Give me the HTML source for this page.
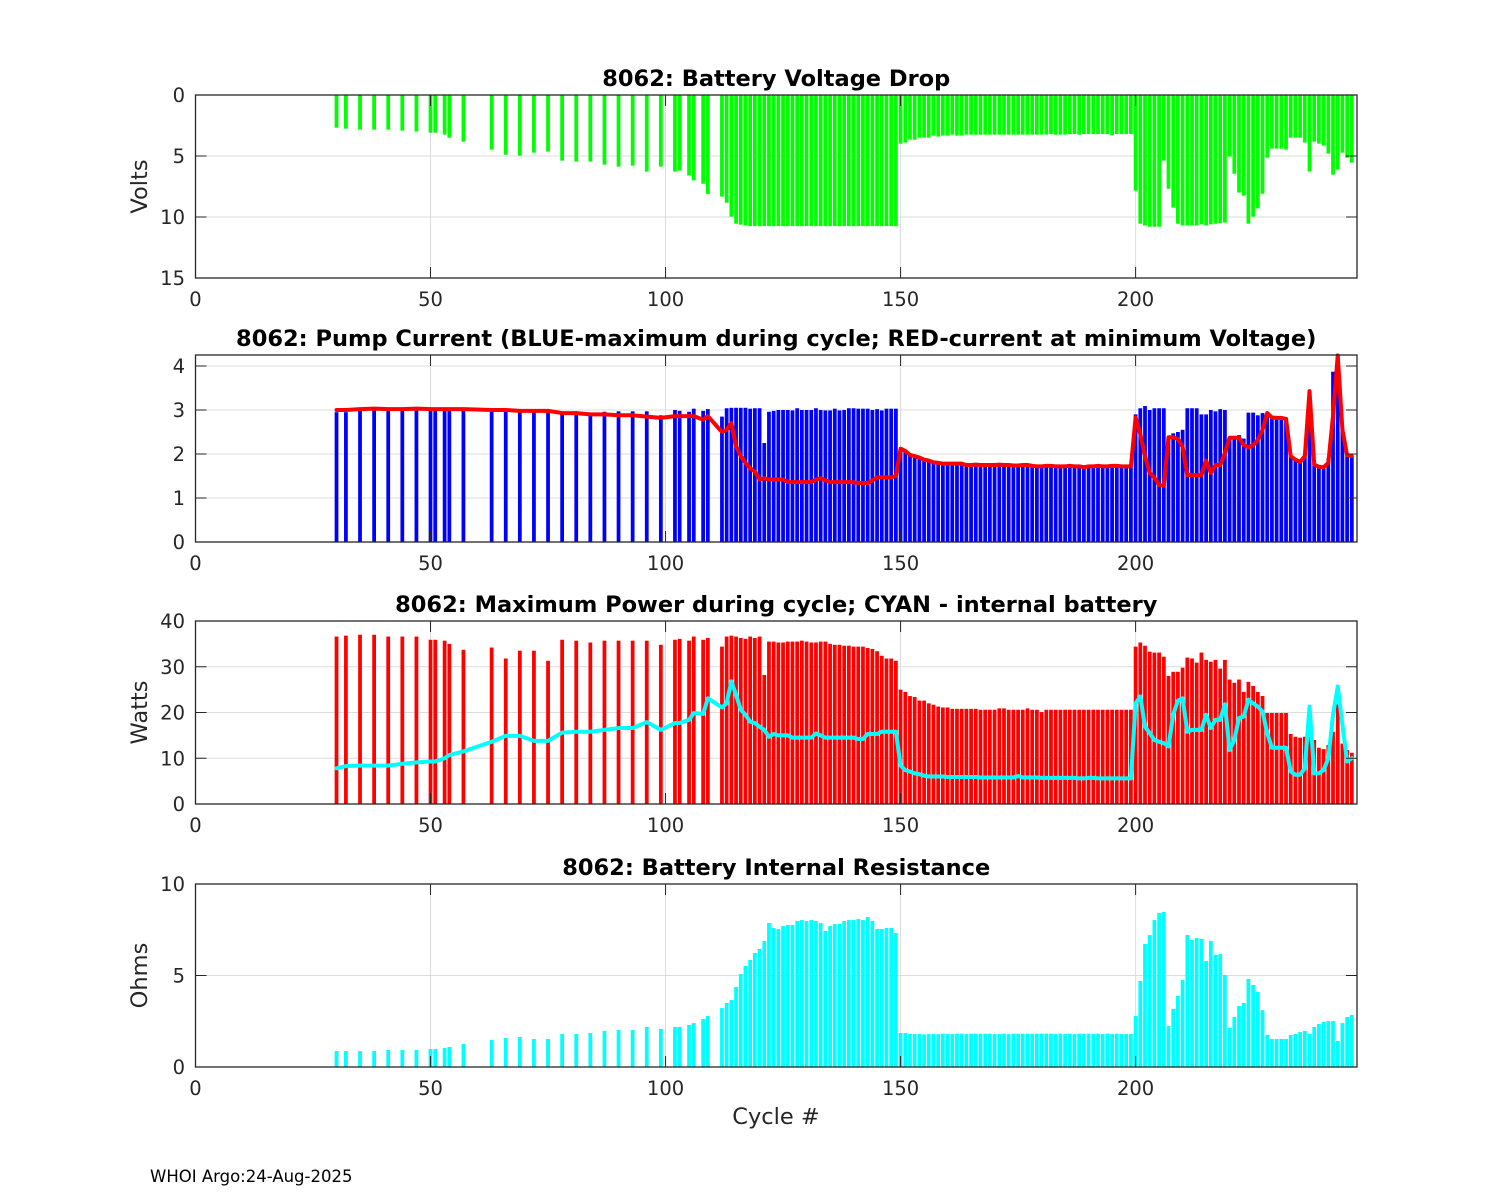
<!DOCTYPE html>
<html><head><meta charset="utf-8"><title>8062 battery diagnostics</title>
<style>
html,body{margin:0;padding:0;background:#fff;}
svg{display:block;font-family:"DejaVu Sans","Liberation Sans",sans-serif;}
</style></head>
<body>
<svg id="fig" width="1500" height="1200" viewBox="0 0 1500 1200" xmlns="http://www.w3.org/2000/svg">
<rect width="1500" height="1200" fill="#fff"/>
</svg>
<script>
// ---- data ----
const cycles = [30,32,35,38,41,44,47,50,51,53,54,57,63,66,69,72,75,78,81,84,87,90,93,96,99,102,103,105,106,108,109,
112,113,114,115,116,117,118,119,120,121,122,123,124,125,126,127,128,129,130,131,132,133,134,135,136,137,138,139,140,141,142,143,144,145,146,147,148,149,
150,151,152,153,154,155,156,157,158,159,160,161,162,163,164,165,166,167,168,169,170,171,172,173,174,175,176,177,178,179,180,181,182,183,184,185,186,187,188,189,190,191,192,193,194,195,196,197,198,199,
200,201,202,203,204,205,206,207,208,209,210,211,212,213,214,215,216,217,218,219,220,221,222,223,224,225,226,227,228,229,230,231,232,233,234,235,236,237,238,239,240,241,242,243,244,245,246];

const voltageDrop = [2.68,2.76,2.84,2.84,2.84,2.92,3.0,3.09,3.09,3.25,3.5,3.83,4.48,4.9,4.97,4.73,4.64,5.38,5.46,5.46,5.71,5.87,5.79,6.28,5.87,6.28,6.2,6.6,7.0,7.27,8.1,
8.33,8.83,9.97,10.55,10.63,10.7,10.75,10.75,10.75,10.75,10.75,10.75,10.75,10.75,10.75,10.75,10.75,10.75,10.75,10.75,10.75,10.75,10.75,10.75,10.75,10.75,10.75,10.75,10.75,10.75,10.75,10.75,10.75,10.75,10.75,10.75,10.75,10.75,
3.99,3.9,3.66,3.66,3.5,3.5,3.5,3.33,3.41,3.33,3.33,3.25,3.33,3.33,3.25,3.25,3.25,3.25,3.25,3.25,3.25,3.25,3.25,3.25,3.25,3.25,3.25,3.25,3.25,3.25,3.25,3.25,3.2,3.25,3.25,3.25,3.2,3.2,3.25,3.2,3.2,3.2,3.2,3.2,3.2,3.3,3.2,3.2,3.2,3.2,
7.84,10.55,10.7,10.8,10.8,10.8,5.38,7.68,9.23,10.55,10.7,10.7,10.7,10.7,10.6,10.7,10.6,10.55,10.5,10.46,5.05,6.45,8.0,8.25,10.55,9.97,9.3,8.09,5.14,4.4,4.4,4.4,4.48,3.5,3.5,3.5,3.9,6.28,3.83,3.99,4.15,4.8,6.53,6.12,4.73,5.14,5.55];

const currentMax = [2.95,2.95,3.0,3.0,3.0,3.0,3.0,3.0,3.0,3.0,3.0,3.0,3.0,3.0,3.0,3.0,3.0,2.95,2.97,2.9,2.96,2.97,2.97,2.97,2.88,3.0,2.98,2.96,3.03,2.98,3.02,
2.85,3.04,3.05,3.05,3.05,3.05,3.03,3.04,3.04,2.25,2.96,2.98,3.0,3.0,3.0,2.99,3.04,3.0,3.0,3.0,3.04,3.0,2.99,2.99,3.03,2.99,3.0,3.04,3.04,3.03,3.03,3.03,3.0,3.02,2.99,3.03,3.03,3.03,
2.12,2.07,1.98,1.95,1.92,1.87,1.85,1.81,1.8,1.78,1.78,1.78,1.78,1.78,1.75,1.75,1.76,1.75,1.75,1.75,1.75,1.76,1.75,1.75,1.74,1.74,1.75,1.75,1.73,1.72,1.72,1.73,1.73,1.72,1.72,1.72,1.73,1.72,1.72,1.7,1.72,1.72,1.73,1.72,1.72,1.73,1.73,1.72,1.72,1.72,
2.9,3.04,3.09,3.0,3.04,3.04,3.04,2.38,2.47,2.5,2.55,3.04,3.04,3.04,2.9,2.9,3.0,2.97,3.02,3.0,2.35,2.35,2.43,2.35,2.94,2.94,2.88,2.93,2.92,2.83,2.83,2.83,2.83,1.96,1.9,1.83,1.95,3.35,1.76,1.72,1.68,1.9,3.87,4.2,2.6,1.95,1.95];

const currentAtMinV = [3.0,3.0,3.02,3.03,3.02,3.02,3.03,3.02,3.02,3.02,3.02,3.02,3.0,3.0,2.98,2.98,2.98,2.93,2.93,2.9,2.9,2.88,2.88,2.85,2.82,2.86,2.86,2.86,2.86,2.78,2.86,
2.5,2.55,2.7,2.18,1.95,1.8,1.68,1.6,1.42,1.45,1.42,1.42,1.42,1.42,1.36,1.36,1.36,1.36,1.36,1.36,1.42,1.45,1.4,1.36,1.36,1.36,1.36,1.36,1.36,1.34,1.34,1.34,1.4,1.47,1.47,1.47,1.47,1.5,
2.12,2.07,1.98,1.95,1.92,1.87,1.85,1.81,1.8,1.78,1.78,1.78,1.78,1.78,1.75,1.75,1.76,1.75,1.75,1.75,1.75,1.76,1.75,1.75,1.74,1.74,1.75,1.75,1.73,1.72,1.72,1.73,1.73,1.72,1.72,1.72,1.73,1.72,1.72,1.7,1.72,1.72,1.73,1.72,1.72,1.73,1.73,1.72,1.72,1.72,
2.83,2.45,1.95,1.57,1.46,1.3,1.28,2.38,2.38,2.34,2.16,1.52,1.52,1.52,1.52,1.85,1.57,1.75,1.75,2.02,2.37,2.37,2.37,2.2,2.15,2.2,2.32,2.55,2.93,2.83,2.82,2.82,2.8,1.95,1.87,1.82,1.95,3.43,1.76,1.71,1.7,1.8,2.87,4.24,2.55,1.97,1.95];

const powerMax = [36.6,36.8,37,37,36.6,36.6,36.6,35.9,35.9,35.7,35.0,33.7,34.2,31.8,33.5,33.5,31.3,35.9,35.7,35.3,35.7,35.7,35.7,35.7,34.8,35.9,36.1,35.7,36.6,35.9,36.3,
34.4,36.6,36.8,36.6,36.3,36.1,36.6,36.3,36.6,28.2,35.5,35.5,35.3,35.3,35.5,35.5,35.5,35.7,35.5,35.3,35.3,35.5,35.5,35.0,34.8,34.8,34.6,34.6,34.4,34.4,34.4,34.1,33.9,33.4,32.4,31.8,31.8,31.3,
25,24.5,23.6,23.4,22.6,22.6,22,21.7,21.3,21.1,21.1,20.8,20.8,20.8,20.8,20.8,20.8,20.6,20.6,20.6,20.6,20.9,20.9,20.6,20.6,20.6,20.6,20.9,20.6,20.6,20.1,20.6,20.6,20.6,20.6,20.6,20.6,20.6,20.6,20.6,20.6,20.6,20.6,20.6,20.6,20.6,20.6,20.6,20.6,20.6,
34.4,35.3,34.6,33.3,33.1,33.1,32.2,28,28.9,28.9,29.8,32,31.8,30.9,33.1,31.5,31.1,31.5,29.6,31.5,27.2,26.5,27.2,24.5,26.7,25.8,24.5,23.6,19.9,19.9,19.9,19.9,19.9,15.3,14.7,14.5,14.7,14.7,14.0,12.3,12.0,12.9,15.8,21.8,13.2,11.8,11.2];

const powerInternal = [7.8,8.3,8.4,8.4,8.4,8.8,9.1,9.3,9.3,10.0,10.7,11.5,13.6,14.9,14.9,13.8,13.8,15.6,15.8,15.8,16.2,16.6,16.6,17.9,16.2,17.7,17.7,18.4,19.9,19.7,23.1,
21.1,22,26.8,23.9,20.6,19.5,18,17.7,16.9,16.2,14.7,15.3,15,15,15,14.5,14.5,14.5,14.5,14.5,15.4,15,14.5,14.5,14.5,14.5,14.5,14.5,14.5,14.2,14.2,15.3,15.3,15.3,15.8,15.8,15.8,15.8,
8.4,7.4,7.1,6.7,6.5,6.2,6.0,6.0,6.0,6.0,5.9,5.9,5.9,5.9,5.9,5.9,5.9,5.8,5.8,5.8,5.8,5.8,5.8,5.8,5.8,6.1,5.8,5.8,5.8,5.8,5.7,5.7,5.7,5.7,5.7,5.7,5.7,5.7,5.6,5.6,5.7,5.7,5.6,5.6,5.6,5.6,5.6,5.6,5.6,5.6,
22,23.5,16.9,15.5,14,13.6,13.3,12.6,19.5,22.6,23.1,15.8,16.2,16.2,16.2,19.5,16.6,18.4,18.4,21.8,11.8,14,18.8,19.1,22.8,22,21.3,20.2,15.5,12.3,12.3,12.3,12.3,7.1,6.4,6.4,7.8,21.3,6.7,6.7,7.4,10,19.5,25.7,17.3,9.3,10];

const resistance = [0.87,0.87,0.87,0.87,0.93,0.93,0.93,0.98,0.98,1.04,1.09,1.26,1.48,1.58,1.64,1.53,1.53,1.8,1.8,1.86,1.97,2.02,2.02,2.19,2.08,2.19,2.19,2.3,2.4,2.62,2.79,
3.22,3.5,3.66,4.37,5.08,5.52,5.85,6.23,6.45,6.89,7.87,7.6,7.54,7.7,7.76,7.76,7.98,8.03,7.98,8.03,7.98,7.87,7.43,7.7,7.81,7.81,7.98,8.03,8.03,8.09,8.03,8.2,7.98,7.54,7.54,7.6,7.6,7.32,
1.86,1.86,1.8,1.8,1.8,1.78,1.8,1.8,1.8,1.82,1.8,1.8,1.82,1.82,1.8,1.82,1.82,1.82,1.82,1.82,1.8,1.8,1.82,1.8,1.82,1.82,1.82,1.82,1.82,1.82,1.82,1.82,1.82,1.8,1.82,1.8,1.82,1.8,1.82,1.8,1.82,1.8,1.82,1.8,1.82,1.8,1.82,1.8,1.8,1.8,
2.79,4.7,6.72,7.21,8.03,8.42,8.47,2.24,3.17,3.88,4.75,7.21,6.94,7.05,7.0,5.79,6.89,6.12,6.17,5.03,2.13,2.73,3.33,3.5,4.81,4.48,4.1,3.11,1.75,1.53,1.53,1.53,1.53,1.75,1.8,1.91,1.97,1.8,2.19,2.35,2.46,2.51,2.51,1.42,2.4,2.73,2.84];

const xTicks = [0,50,100,150,200];
const yTicks1 = [0,5,10,15];
const yTicks2 = [0,1,2,3,4];
const yTicks3 = [0,10,20,30,40];
const yTicks4 = [0,5,10];

// ---- layout ----
const NS = "http://www.w3.org/2000/svg";
const svg = document.getElementById('fig');
const X0 = 195.5, X1 = 1357, XMAX = 247.1;
const xs = v => X0 + v / XMAX * (X1 - X0);
const BW = 0.8 * (X1 - X0) / XMAX;

function mk(tag, attrs, parent) {
  const e = document.createElementNS(NS, tag);
  for (const k in attrs) e.setAttribute(k, attrs[k]);
  (parent || svg).appendChild(e);
  return e;
}
function txt(s, attrs, parent) { const t = mk('text', attrs, parent); t.textContent = s; return t; }

const panels = [
  {key:'voltage', top:95, bot:278, min:0, max:15, rev:true, ticks:yTicks1, title:'8062: Battery Voltage Drop', ylabel:'Volts'},
  {key:'current', top:355, bot:542, min:0, max:4.25, rev:false, ticks:yTicks2, title:'8062: Pump Current (BLUE-maximum during cycle; RED-current at minimum Voltage)', ylabel:''},
  {key:'power', top:621, bot:804, min:0, max:40, rev:false, ticks:yTicks3, title:'8062: Maximum Power during cycle; CYAN - internal battery', ylabel:'Watts'},
  {key:'resistance', top:884, bot:1067, min:0, max:10, rev:false, ticks:yTicks4, title:'8062: Battery Internal Resistance', ylabel:'Ohms'}
];

function yScale(p) {
  return v => p.rev ? p.top + (v - p.min) / (p.max - p.min) * (p.bot - p.top)
                    : p.bot - (v - p.min) / (p.max - p.min) * (p.bot - p.top);
}

function drawAxes(p) {
  const g = mk('g', {});
  
  
  const ys = yScale(p);
  xTicks.forEach(t => {
    if (t === 0) return;
    const l = mk('line', {x1:xs(t), x2:xs(t), y1:p.top, y2:p.bot, stroke:'#dcdcdc', 'stroke-width':1}, g);
    
    
  });
  p.ticks.forEach(t => {
    const l = mk('line', {x1:X0, x2:X1, y1:ys(t), y2:ys(t), stroke:'#dcdcdc', 'stroke-width':1}, g);
    
    
  });
  return g;
}

function drawFrame(p) {
  const g = mk('g', {});
  
  
  const ys = yScale(p);
  mk('rect', {x:X0, y:p.top, width:X1 - X0, height:p.bot - p.top, fill:'none', stroke:'#262626', 'stroke-width':1.3}, g);
  xTicks.forEach(t => {
    mk('line', {x1:xs(t), x2:xs(t), y1:p.bot, y2:p.bot - 11, stroke:'#262626', 'stroke-width':1}, g);
    mk('line', {x1:xs(t), x2:xs(t), y1:p.top, y2:p.top + 11, stroke:'#262626', 'stroke-width':1}, g);
    const lb = txt(String(t), {x:xs(t), y:p.bot + 28, 'text-anchor':'middle', 'font-size':19.5, fill:'#262626'}, g);
    
    
  });
  p.ticks.forEach(t => {
    mk('line', {x1:X0, x2:X0 + 11, y1:ys(t), y2:ys(t), stroke:'#262626', 'stroke-width':1}, g);
    mk('line', {x1:X1, x2:X1 - 11, y1:ys(t), y2:ys(t), stroke:'#262626', 'stroke-width':1}, g);
    const lb = txt(String(t), {x:185, y:ys(t) + 7, 'text-anchor':'end', 'font-size':19.5, fill:'#262626'}, g);
    
    
  });
  const tt = txt(p.title, {x:(X0 + X1) / 2, y:p.top - 9, 'text-anchor':'middle', 'font-size':22.5, 'font-weight':'bold', fill:'#000'}, g);
  
  
  if (p.ylabel) {
    const cy = (p.top + p.bot) / 2;
    const yl = txt(p.ylabel, {x:147, y:cy, 'text-anchor':'middle', 'font-size':22.5, fill:'#262626', transform:'rotate(-90 147 ' + cy + ')'}, g);
    
    
  }
}

function drawBars(p, vals, color, name) {
  const ys = yScale(p);
  const g = mk('g', {});
  
  
  const n = Math.min(cycles.length, vals.length);
  for (let i = 0; i < n; i++) {
    const a = ys(0), b = ys(vals[i]);
    const r = mk('rect', {x:xs(cycles[i]) - BW / 2, y:Math.min(a, b), width:BW, height:Math.abs(b - a), fill:color}, g);
    
    
  }
}

function drawLine(p, vals, color, name) {
  const ys = yScale(p);
  const n = Math.min(cycles.length, vals.length);
  let d = '';
  for (let i = 0; i < n; i++) d += (i ? 'L' : 'M') + xs(cycles[i]).toFixed(2) + ',' + ys(vals[i]).toFixed(2);
  const path = mk('path', {d:d, fill:'none', stroke:color, 'stroke-width':4, 'stroke-linejoin':'round', 'stroke-linecap':'round'});
  
  
}

panels.forEach(drawAxes);
drawBars(panels[0], voltageDrop, '#00ff00', 'voltage-drop');
drawBars(panels[1], currentMax, '#0000ff', 'max-current');
drawLine(panels[1], currentAtMinV, '#ff0000', 'current-at-min-voltage-line');
drawBars(panels[2], powerMax, '#ff0000', 'max-power');
drawLine(panels[2], powerInternal, '#00ffff', 'internal-battery-power-line');
drawBars(panels[3], resistance, '#00ffff', 'internal-resistance');
panels.forEach(drawFrame);

const xl = txt('Cycle #', {x:776, y:1124, 'text-anchor':'middle', 'font-size':22.5, fill:'#262626'});


const ft = txt('WHOI Argo:24-Aug-2025', {x:150, y:1182, 'font-size':16.5, fill:'#000'});


</script>
</body></html>
